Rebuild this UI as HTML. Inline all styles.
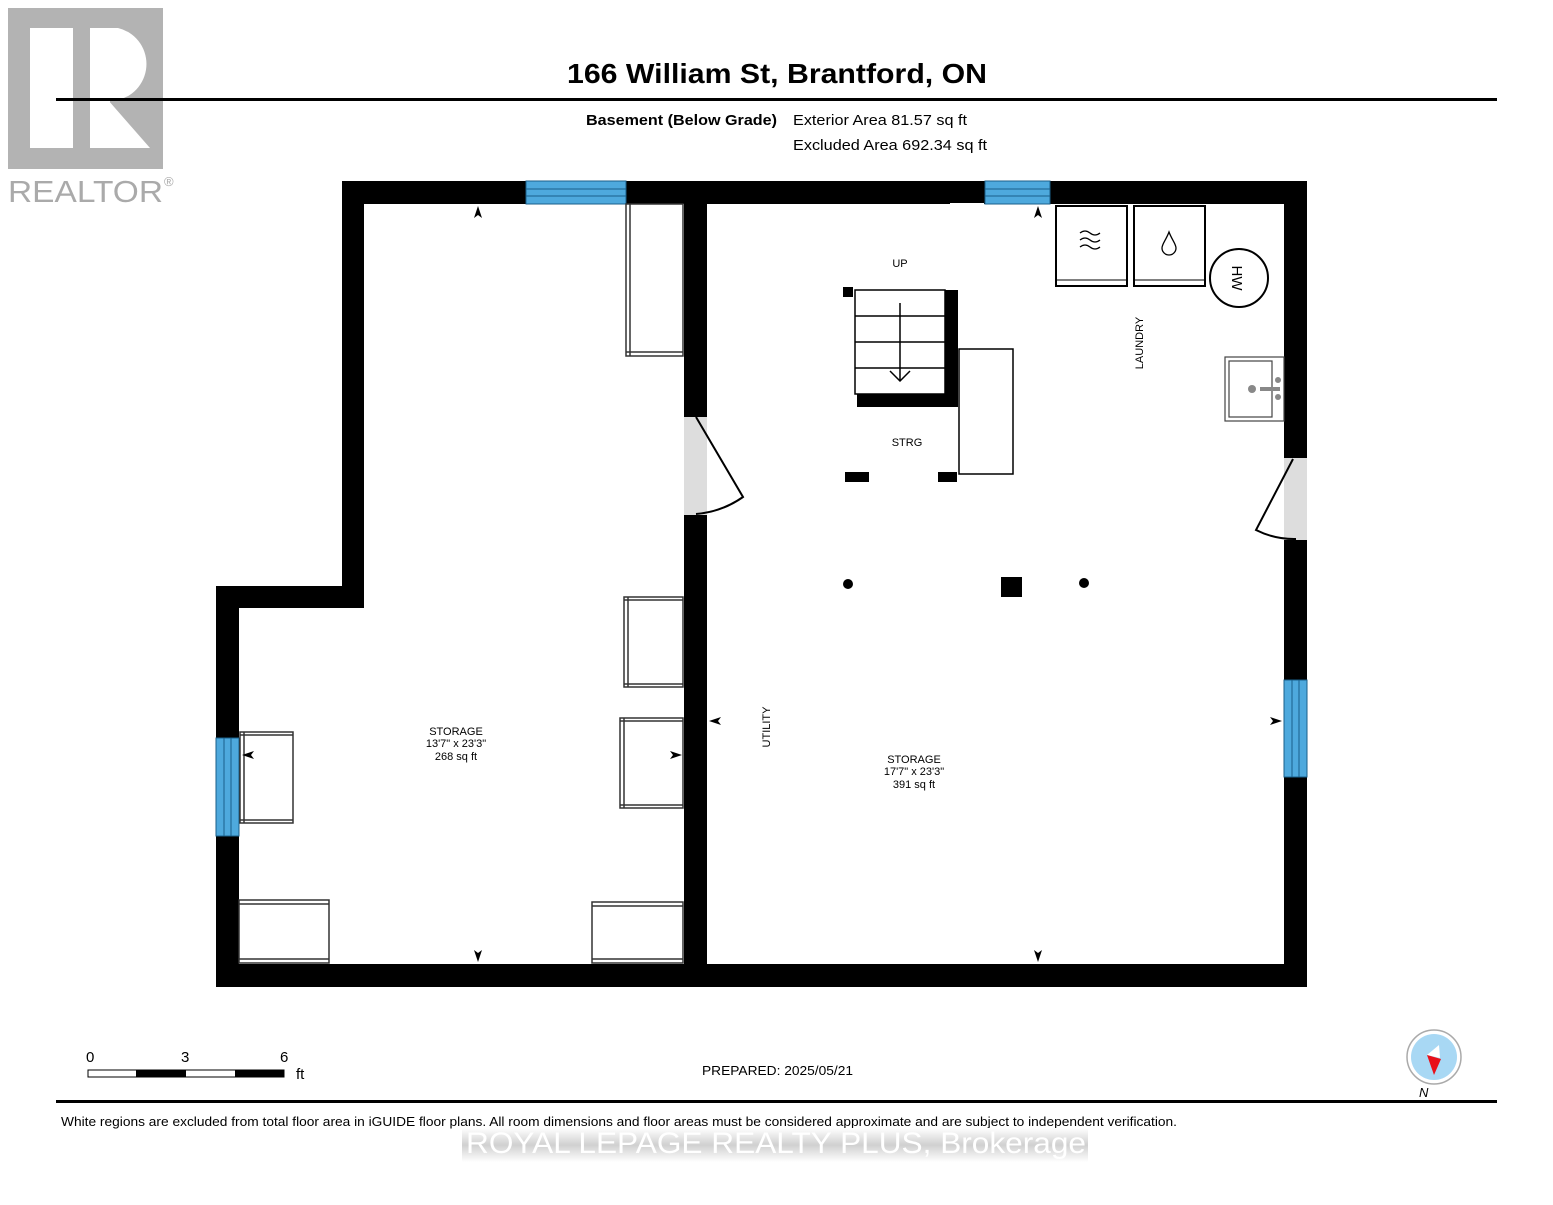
<!DOCTYPE html>
<html><head><style>
body{margin:0;background:#fff;width:1553px;height:1200px;overflow:hidden;font-family:"Liberation Sans",Arial,sans-serif}
</style></head><body>
<svg width="1553" height="1200" viewBox="0 0 1553 1200" xmlns="http://www.w3.org/2000/svg" font-family="Liberation Sans, Arial, sans-serif">
<rect width="1553" height="1200" fill="#fff"/>
<!-- Realtor logo -->
<rect x="8" y="8" width="155" height="161" fill="#b3b3b3"/>
<rect x="30" y="28" width="43" height="120" fill="#fff"/>
<path d="M90 28 H118 A37 37 0 0 1 118 100 H108 L150 148 H90 Z" fill="#fff"/>
<rect x="90" y="98" width="20" height="4" fill="#fff"/>
<text x="8" y="202" font-size="31" fill="#aaa" textLength="155" lengthAdjust="spacingAndGlyphs">REALTOR</text>
<text x="164" y="186" font-size="13" fill="#aaa">®</text>
<!-- Title -->
<text x="567" y="83" font-size="28" font-weight="bold" textLength="420" lengthAdjust="spacingAndGlyphs">166 William St, Brantford, ON</text>
<rect x="56" y="98" width="1441" height="3" fill="#000"/>
<text x="586" y="125" font-size="15" font-weight="bold" textLength="191" lengthAdjust="spacingAndGlyphs">Basement (Below Grade)</text>
<text x="793" y="125" font-size="15" textLength="174" lengthAdjust="spacingAndGlyphs">Exterior Area 81.57 sq ft</text>
<text x="793" y="150" font-size="15" textLength="194" lengthAdjust="spacingAndGlyphs">Excluded Area 692.34 sq ft</text>
<!-- walls -->
<g fill="#000">
<rect x="342" y="181" width="965" height="23"/>
<rect x="342" y="181" width="22" height="427"/>
<rect x="216" y="586" width="148" height="22"/>
<rect x="216" y="586" width="23" height="401"/>
<rect x="216" y="964" width="1091" height="23"/>
<rect x="1284" y="181" width="23" height="806"/>
<rect x="684" y="204" width="23" height="760"/>
</g>
<!-- door gaps -->
<rect x="684" y="417" width="23" height="98" fill="#ddd"/>
<rect x="1284" y="458" width="23" height="82" fill="#ddd"/>
<rect x="950" y="203" width="34" height="2" fill="#fff"/>
<!-- windows -->
<g fill="#4ea9dd" stroke="#1a5f8a" stroke-width="1">
<rect x="526" y="181" width="100" height="23"/>
<rect x="985" y="181" width="65" height="23"/>
<rect x="216" y="738" width="23" height="98"/>
<rect x="1284" y="680" width="23" height="97"/>
</g>
<g stroke="#1a5f8a" stroke-width="1">
<line x1="526" y1="189" x2="626" y2="189"/><line x1="526" y1="196" x2="626" y2="196"/>
<line x1="985" y1="189" x2="1050" y2="189"/><line x1="985" y1="196" x2="1050" y2="196"/>
<line x1="224" y1="738" x2="224" y2="836"/><line x1="231" y1="738" x2="231" y2="836"/>
<line x1="1292" y1="680" x2="1292" y2="777"/><line x1="1299" y1="680" x2="1299" y2="777"/>
</g>
<!-- doors -->
<g fill="none" stroke="#000" stroke-width="2">
<path d="M696 417 L743 497 A95 95 0 0 1 696 514"/>
<path d="M1293 459 L1256 530 A85 85 0 0 0 1296 539"/>
</g>
<!-- shelves -->
<g fill="#fff" stroke="#333" stroke-width="1.5">
<rect x="626" y="204" width="57" height="152"/><line x1="630" y1="204" x2="630" y2="356"/><line x1="626" y1="352" x2="683" y2="352"/>
<rect x="624" y="597" width="59" height="90"/><line x1="628" y1="597" x2="628" y2="687"/><line x1="624" y1="600" x2="683" y2="600"/><line x1="624" y1="684" x2="683" y2="684"/>
<rect x="620" y="718" width="63" height="90"/><line x1="624" y1="718" x2="624" y2="808"/><line x1="620" y1="721" x2="683" y2="721"/><line x1="620" y1="805" x2="683" y2="805"/>
<rect x="240" y="732" width="53" height="91"/><line x1="244" y1="732" x2="244" y2="823"/><line x1="240" y1="735" x2="293" y2="735"/><line x1="240" y1="820" x2="293" y2="820"/>
<rect x="239" y="900" width="90" height="63"/><line x1="239" y1="904" x2="329" y2="904"/><line x1="239" y1="959" x2="329" y2="959"/>
<rect x="592" y="902" width="91" height="61"/><line x1="592" y1="906" x2="683" y2="906"/><line x1="592" y1="959" x2="683" y2="959"/>
</g>
<!-- stairs -->
<rect x="843" y="287" width="10" height="10" fill="#000"/>
<rect x="945" y="290" width="13" height="117" fill="#000"/>
<rect x="857" y="394" width="101" height="13" fill="#000"/>
<g fill="none" stroke="#000" stroke-width="1.5">
<rect x="855" y="290" width="90" height="104"/>
<line x1="855" y1="316" x2="945" y2="316"/><line x1="855" y1="342" x2="945" y2="342"/><line x1="855" y1="368" x2="945" y2="368"/>
<line x1="900" y1="303" x2="900" y2="381"/><path d="M890 371 L900 381 L910 371"/>
<rect x="959" y="349" width="54" height="125"/>
</g>
<rect x="845" y="472" width="24" height="10" fill="#000"/>
<rect x="938" y="472" width="19" height="10" fill="#000"/>
<text x="900" y="267" font-size="11" text-anchor="middle">UP</text>
<text x="907" y="446" font-size="11" text-anchor="middle">STRG</text>
<!-- laundry appliances -->
<g fill="#fff" stroke="#000" stroke-width="2">
<rect x="1056" y="206" width="71" height="80"/><rect x="1134" y="206" width="71" height="80"/>
<circle cx="1239" cy="278" r="29"/>
</g>
<line x1="1056" y1="280" x2="1127" y2="280" stroke="#000"/><line x1="1134" y1="280" x2="1205" y2="280" stroke="#000"/>
<g fill="none" stroke="#000" stroke-width="1.3">
<path d="M1080 233 q5 -4 10 0 t10 0"/><path d="M1080 240 q5 -4 10 0 t10 0"/><path d="M1080 247 q5 -4 10 0 t10 0"/>
<path d="M1169 232 C1166 240 1162 244 1162 248 A7 7 0 0 0 1176 248 C1176 244 1172 240 1169 232Z"/>
</g>
<text transform="translate(1232,278) rotate(90)" font-size="15" text-anchor="middle">HW</text>
<text transform="translate(1143,343) rotate(-90)" font-size="11" text-anchor="middle">LAUNDRY</text>
<!-- sink -->
<g fill="#fff" stroke="#444" stroke-width="1.2">
<rect x="1225" y="357" width="59" height="64"/><rect x="1229" y="361" width="43" height="56"/>
</g>
<circle cx="1252" cy="389" r="4" fill="#888"/>
<rect x="1260" y="387" width="20" height="4" fill="#888"/>
<circle cx="1278" cy="380" r="3" fill="#888"/><circle cx="1278" cy="397" r="3" fill="#888"/>
<!-- columns -->
<circle cx="848" cy="584" r="5" fill="#000"/><circle cx="1084" cy="583" r="5" fill="#000"/>
<rect x="1001" y="577" width="21" height="20" fill="#000"/>
<!-- arrows -->
<g fill="#000">
<path d="M478 206 l-4 12 4 -3 4 3z"/>
<path d="M1038 206 l-4 12 4 -3 4 3z"/>
<path d="M478 962 l-4 -12 4 3 4 -3z"/>
<path d="M1038 962 l-4 -12 4 3 4 -3z"/>
<path d="M709 721 l12 -4 -3 4 3 4z"/>
<path d="M682 755 l-12 -4 3 4 -3 4z"/>
<path d="M242 755 l12 -4 -3 4 3 4z"/>
<path d="M1282 721 l-12 -4 3 4 -3 4z"/>
</g>
<text transform="translate(770,727) rotate(-90)" font-size="11" text-anchor="middle">UTILITY</text>
<g font-size="11" text-anchor="middle">
<text x="456" y="735">STORAGE</text><text x="456" y="747">13'7" x 23'3"</text><text x="456" y="760">268 sq ft</text>
<text x="914" y="763">STORAGE</text><text x="914" y="775">17'7" x 23'3"</text><text x="914" y="788">391 sq ft</text>
</g>
<!-- scale -->
<g font-size="15"><text x="86" y="1062">0</text><text x="181" y="1062">3</text><text x="280" y="1062">6</text><text x="296" y="1079">ft</text></g>
<rect x="88" y="1070" width="196" height="7" fill="#fff" stroke="#000"/>
<rect x="136" y="1070" width="50" height="7" fill="#000"/><rect x="235" y="1070" width="49" height="7" fill="#000"/>
<text x="702" y="1075" font-size="13" textLength="151" lengthAdjust="spacingAndGlyphs">PREPARED: 2025/05/21</text>
<!-- compass -->
<circle cx="1434" cy="1057" r="27" fill="#fff" stroke="#aaa" stroke-width="1.5"/>
<circle cx="1434" cy="1057" r="23" fill="#a8d8f4"/>
<path d="M1439 1045 L1440 1058 L1427 1055Z" fill="#fff"/>
<path d="M1427 1055 L1441 1059 L1434 1075Z" fill="#e8101a"/>
<text x="1419" y="1097" font-size="13" font-style="italic">N</text>
<rect x="56" y="1100" width="1441" height="3" fill="#000"/>
<text x="61" y="1126" font-size="13" textLength="1116" lengthAdjust="spacingAndGlyphs">White regions are excluded from total floor area in iGUIDE floor plans. All room dimensions and floor areas must be considered approximate and are subject to independent verification.</text>
<!-- watermark -->
<defs><linearGradient id="g" x1="0" y1="0" x2="0" y2="1"><stop offset="0" stop-color="#fff"/><stop offset="0.5" stop-color="#d0d0d0"/><stop offset="1" stop-color="#fff"/></linearGradient></defs>
<rect x="462" y="1128" width="626" height="34" fill="url(#g)"/>
<text x="466" y="1153" font-size="30" fill="#fff" textLength="620" lengthAdjust="spacingAndGlyphs">ROYAL LEPAGE REALTY PLUS, Brokerage</text>
</svg>
</body></html>
